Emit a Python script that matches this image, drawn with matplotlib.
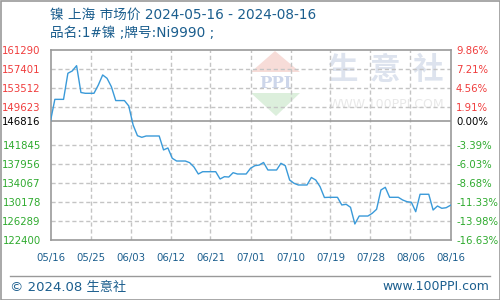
import numpy as np
import matplotlib
matplotlib.use("Agg")
import matplotlib.pyplot as plt
from matplotlib.patches import Polygon, Rectangle
from matplotlib.lines import Line2D

plt.rcParams['font.family'] = ['DejaVu Sans', 'Noto Sans CJK SC']

# data: daily price, 2024-05-16 .. 2024-08-16 (weekends carry the last value)
title = "镍 上海 市场价 2024-05-16 - 2024-08-16"
subtitle = "品名:1#镍 ;牌号:Ni9990 ;"
base_price = 146816
prices = [
    146816, 151250, 151250, 151250, 156590, 157060, 158140, 152650, 152490, 152490,
    152490, 154190, 156240, 155560, 153840, 151000, 151000, 151000, 149900, 146000,
    143810, 143480, 143750, 143750, 143750, 143750, 140900, 141300, 139190, 138630,
    138630, 138630, 138290, 137400, 135970, 136440, 136440, 136440, 136440, 134950,
    135420, 135350, 136240, 135970, 135970, 135970, 137140, 137670, 137800, 138330,
    136790, 136790, 136790, 138160, 137670, 134740, 134070, 133720, 133720, 133720,
    135260, 134740, 133370, 131160, 131200, 131200, 131200, 129630, 129770, 129160,
    125740, 127370, 127370, 127370, 127930, 128750, 132700, 133250, 131200, 131200,
    131200, 130650, 130300, 130180, 128250, 131820, 131820, 131820, 128600, 129420,
    128950, 129070, 129570,
]
y_ticks = [161290, 157401, 153512, 149623, 146816, 141845, 137956, 134067, 130178, 126289, 122400]
pct_labels = ["9.86%", "7.21%", "4.56%", "1.91%", "0.00%", "-3.39%", "-6.03%",
              "-8.68%", "-11.33%", "-13.98%", "-16.63%"]
x_labels = ["05/16", "05/25", "06/03", "06/12", "06/21", "07/01", "07/10",
            "07/19", "07/28", "08/06", "08/16"]

blue_txt = '#1b5e8e'
red = '#f03c3c'
green = '#2eaa2e'
gray = '#999999'

fig = plt.figure(figsize=(5, 3), dpi=100)

# background layer for watermark / frame
bg = fig.add_axes([0, 0, 1, 1], zorder=0)
bg.set_xlim(0, 500)
bg.set_ylim(300, 0)
bg.axis('off')
bg.add_patch(Rectangle((0.5, 0.5), 499, 299, fill=False, edgecolor=gray, lw=1.2))
bg.add_patch(Polygon([[275, 51], [251, 72], [300, 72]], color='#f7dcd8', lw=0))
bg.add_patch(Polygon([[251, 93], [300, 93], [276, 116]], color='#dcefdc', lw=0))
bg.text(276, 83, "PPI", fontsize=12, fontweight='bold', family='DejaVu Serif',
        color='#cdd6ea', ha='center', va='center')
for cx, ch in zip([342, 385, 428], "生意社"):
    bg.text(cx, 70, ch, fontsize=22, fontweight='bold', family='Noto Sans CJK SC',
            color='#dde3ee', ha='center', va='center')
bg.text(386, 104, "WWW.100PPI.COM", fontsize=9, color='#e8e8e8', ha='center', va='center')
bg.add_line(Line2D([10, 490], [275.5, 275.5], color=gray, lw=1))
bg.text(50, 15, title, fontsize=9.8, color=blue_txt, va='center', ha='left')
bg.text(50, 33, subtitle, fontsize=9.8, color=blue_txt, va='center', ha='left')
bg.text(10, 287, "© 2024.08 生意社", fontsize=9.5, color=blue_txt, va='center', ha='left')
bg.text(489, 287, "www.100PPI.com", fontsize=9, color=blue_txt, va='center', ha='right')

ax = fig.add_axes([50.5 / 500, 1 - 240.3 / 300, 400 / 500, 190 / 300], zorder=1)
ax.set_facecolor('none')
days = np.arange(len(prices))
ax.plot(days, prices, color='#3a9ad9', lw=1.0, zorder=3)
ax.axhline(base_price, color=gray, lw=1.2, zorder=2)

ax.set_xlim(0, 92)
ax.set_ylim(y_ticks[-1], y_ticks[0])
xt = np.linspace(0, 92, 11)
ax.set_xticks(xt)
ax.set_xticklabels(x_labels)
ax.set_yticks(y_ticks)
ax.set_yticklabels([str(v) for v in y_ticks])
ax.tick_params(length=0, labelsize=7.3)
ax.tick_params(axis='x', pad=9, labelcolor=blue_txt)
ax.tick_params(axis='y', pad=7)
for lab, v in zip(ax.get_yticklabels(), y_ticks):
    lab.set_color('black' if v == base_price else (red if v > base_price else green))

for v in y_ticks[1:-1]:
    if v != base_price:
        ax.axhline(v, color='#c4c4c4', lw=1.0, ls=(0, (3, 2)), zorder=1)
for x in xt[1:-1]:
    ax.axvline(x, color='#c4c4c4', lw=1.0, ls=(0, (3, 2)), zorder=1)
for s in ax.spines.values():
    s.set_color(gray)
    s.set_linewidth(1.2)

ax2 = ax.twinx()
ax2.set_ylim(y_ticks[-1], y_ticks[0])
ax2.set_yticks(y_ticks)
ax2.set_yticklabels(pct_labels)
ax2.tick_params(length=0, labelsize=7.3, pad=4)
for lab, v in zip(ax2.get_yticklabels(), y_ticks):
    lab.set_color('black' if v == base_price else (red if v > base_price else green))
for s in ax2.spines.values():
    s.set_visible(False)

fig.savefig("out.png", dpi=100)
